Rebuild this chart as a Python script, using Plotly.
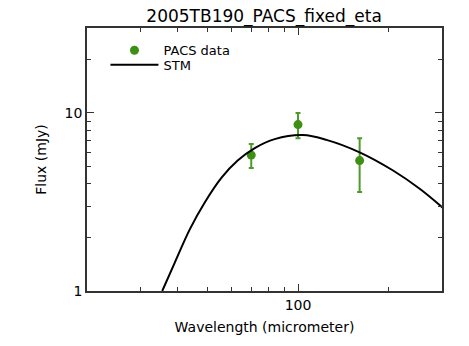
import plotly.graph_objects as go

# PACS photometry
PACS_WL = [70, 100, 160]
PACS_FLUX = [5.8, 8.6, 5.4]
PACS_ERR = [0.9, 1.4, 1.8]

# STM model curve (sampled by eye along the drawn line)
STM_WL = [35.5, 39.1, 43.8, 49.1, 55.9, 63.1, 71.9, 83.7, 103.7, 124.2, 160, 206.5, 253, 302]
STM_FLUX = [1.0, 1.448, 2.218, 3.14, 4.34, 5.40, 6.35, 7.13, 7.51, 7.06, 6.01, 4.75, 3.75, 2.93]

X_MINOR = [30, 40, 50, 60, 70, 80, 90, 200, 300]
Y_MINOR = [2, 3, 4, 5, 6, 7, 8, 9, 20, 30]

GREEN = "#3f8f14"
AXIS_COLOR = "#333333"
FONT = "DejaVu Sans"

fig = go.Figure()

fig.add_trace(go.Scatter(
    x=PACS_WL, y=PACS_FLUX,
    mode="markers",
    name="PACS data",
    legend="legend",
    marker=dict(color=GREEN, size=9),
    error_y=dict(type="data", array=PACS_ERR, color="#4f9a2a", thickness=2, width=2.5),
))

fig.add_trace(go.Scatter(
    x=STM_WL, y=STM_FLUX,
    mode="lines",
    name="STM",
    legend="legend2",
    line=dict(color="black", width=2, shape="spline", smoothing=1),
))

axis_common = dict(
    type="log",
    showgrid=False,
    zeroline=False,
    showline=True,
    linecolor=AXIS_COLOR,
    linewidth=1.5,
    mirror="allticks",
    ticks="inside",
    ticklen=7,
    tickcolor=AXIS_COLOR,
    tickwidth=1,
    tickfont=dict(size=14, color="black", family=FONT),
)

fig.update_xaxes(
    **axis_common,
    range=[1.301, 2.477],
    tickvals=[100],
    ticktext=["100"],
    minor=dict(tickvals=X_MINOR, ticks="inside", ticklen=4, tickcolor=AXIS_COLOR),
    title=dict(text="Wavelength (micrometer)", font=dict(size=14, family=FONT, color="black"), standoff=11),
)
fig.update_yaxes(
    **axis_common,
    range=[0, 1.477],
    tickvals=[1, 10],
    ticktext=["1", "10"],
    minor=dict(tickvals=Y_MINOR, ticks="inside", ticklen=4, tickcolor=AXIS_COLOR),
    title=dict(text="Flux (mJy)", font=dict(size=14, family=FONT, color="black"), standoff=15),
)

legend_common = dict(xanchor="left", yanchor="middle", bgcolor="rgba(0,0,0,0)",
                     font=dict(size=13, family=FONT, color="black"), itemwidth=48)

# page body adds an 8px offset, margins compensate for it
fig.update_layout(
    width=469, height=346,
    margin=dict(l=79, r=35, t=20, b=63),
    paper_bgcolor="white",
    plot_bgcolor="white",
    font=dict(family=FONT, color="black"),
    title=dict(text="2005TB190_PACS_fixed_eta", x=0.546, xanchor="center",
               y=0.993, yanchor="top", pad=dict(t=0),
               font=dict(size=17, family=FONT, color="black")),
    legend=dict(x=0.052, y=0.915, **legend_common),
    legend2=dict(x=0.052, y=0.860, **legend_common),
    showlegend=True,
)

fig.write_html("out.html")
